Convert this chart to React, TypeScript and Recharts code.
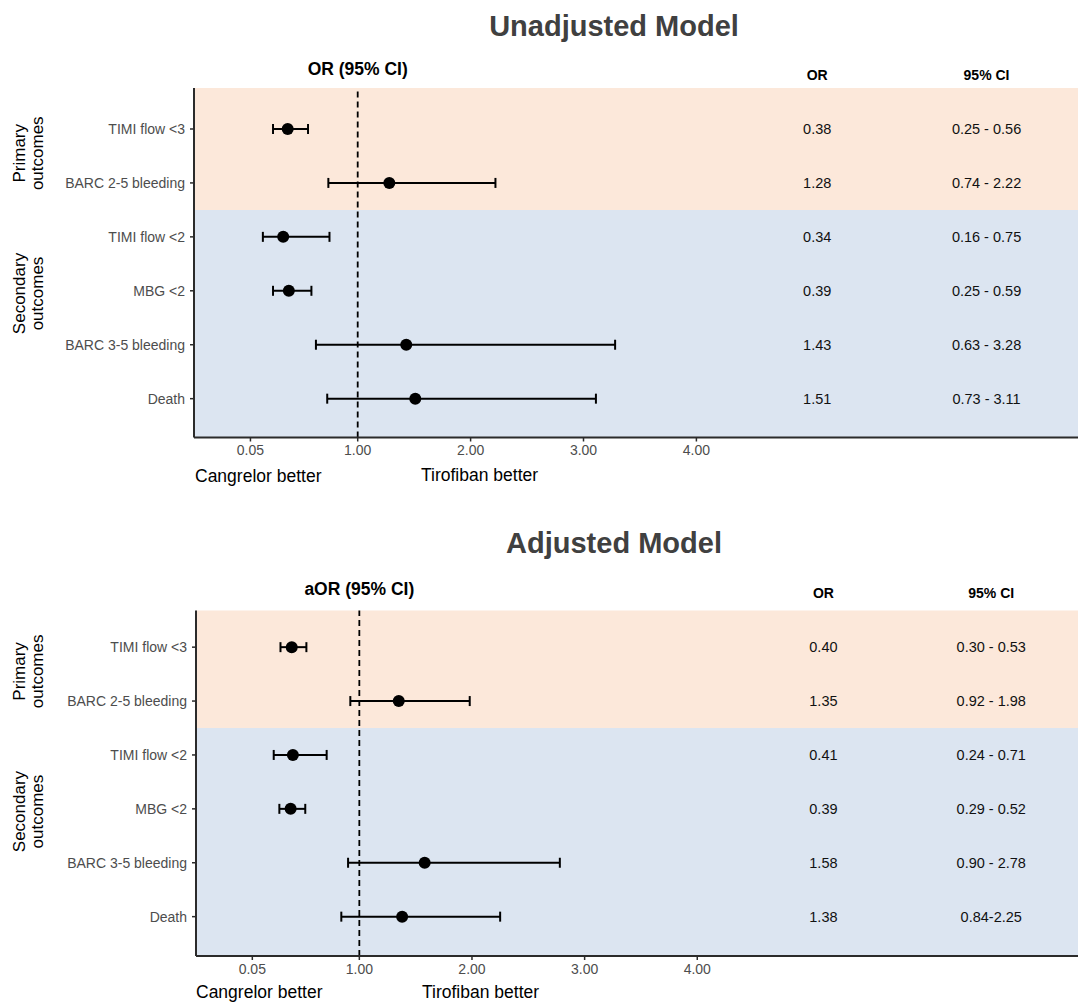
import React from "react";
import { ScatterChart, Scatter, XAxis, YAxis, ErrorBar, ReferenceArea, ReferenceLine } from "recharts";

const OUTCOMES = ["TIMI flow <3", "BARC 2-5 bleeding", "TIMI flow <2", "MBG <2", "BARC 3-5 bleeding", "Death"];
const X_TICKS = [0.05, 1, 2, 3, 4];

// unadjusted model
const UNADJ_OR = [0.38, 1.28, 0.34, 0.39, 1.43, 1.51];
const UNADJ_LO = [0.25, 0.74, 0.16, 0.25, 0.63, 0.73];
const UNADJ_HI = [0.56, 2.22, 0.75, 0.59, 3.28, 3.11];
const UNADJ_CI_TEXT = ["0.25 - 0.56", "0.74 - 2.22", "0.16 - 0.75", "0.25 - 0.59", "0.63 - 3.28", "0.73 - 3.11"];

// adjusted model
const ADJ_OR = [0.4, 1.35, 0.41, 0.39, 1.58, 1.38];
const ADJ_LO = [0.3, 0.92, 0.24, 0.29, 0.9, 0.84];
const ADJ_HI = [0.53, 1.98, 0.71, 0.52, 2.78, 2.25];
const ADJ_CI_TEXT = ["0.30 - 0.53", "0.92 - 1.98", "0.24 - 0.71", "0.29 - 0.52", "0.90 - 2.78", "0.84-2.25"];

const GROUP_LINES = [["Primary", "outcomes"], ["Secondary", "outcomes"]];
const GROUP_SPLIT = 2.5;
const GROUP_LABEL_Y = [1.45, 4.05];
const GROUP_FILLS = ["#FCE8DA", "#DCE5F1"];

const X_DOMAIN = [-0.45, 7.38];
const FONT = "'Liberation Sans', Arial, sans-serif";
const AXIS = "#2b2b2b";
const GREY = "#4d4d4d";

function GroupLabel(props: any) {
  const { viewBox, lines } = props;
  const cy = viewBox.y + (viewBox.height || 0) / 2;
  return (
    <text transform={`translate(25, ${cy}) rotate(-90)`} textAnchor="middle" fontSize={17} fill="#000" fontFamily={FONT}>
      {lines.map((l: string, i: number) => (
        <tspan key={i} x={0} y={i * 18}>{l}</tspan>
      ))}
    </text>
  );
}

const Dot = (p: any) => <circle cx={p.cx} cy={p.cy} r={6} fill="#000" />;
const Cell = (p: any) => (
  <text x={p.cx} y={p.cy} dy="0.36em" textAnchor="middle" fontSize={14.5} fill="#111" fontFamily={FONT}>
    {p.payload.text}
  </text>
);

function ForestPanel(props: any) {
  const { header, or, lo, hi, ciText, colX, yDomain, top, height, marginTop, plotLeft, bottomMargin, headerOffset, colHeaderOffset } = props;
  const points = OUTCOMES.map((_, i) => ({ x: or[i], y: i + 1, err: [or[i] - lo[i], hi[i] - or[i]] }));
  const orCells = OUTCOMES.map((_, i) => ({ x: colX[0], y: i + 1, text: or[i].toFixed(2) }));
  const ciCells = OUTCOMES.map((_, i) => ({ x: colX[1], y: i + 1, text: ciText[i] }));
  const spans = [[yDomain[0], GROUP_SPLIT], [GROUP_SPLIT, yDomain[1]]];

  return (
    <div style={{ position: "absolute", left: 0, top }}>
      <ScatterChart width={1078} height={height} margin={{ top: marginTop, right: 0, bottom: bottomMargin, left: 0 }}>
        {spans.map((s, i) => (
          <ReferenceArea key={i} y1={s[0]} y2={s[1]} fill={GROUP_FILLS[i]} fillOpacity={1} stroke="none" ifOverflow="visible" />
        ))}
        {GROUP_LABEL_Y.map((y, i) => (
          <ReferenceLine key={i} y={y} stroke="none" ifOverflow="visible" label={<GroupLabel lines={GROUP_LINES[i]} />} />
        ))}
        <XAxis
          type="number"
          dataKey="x"
          domain={X_DOMAIN}
          allowDataOverflow
          ticks={X_TICKS}
          tickFormatter={(v: number) => v.toFixed(2)}
          height={30}
          tickSize={4}
          tickMargin={4}
          axisLine={{ stroke: AXIS, strokeWidth: 2 }}
          tickLine={{ stroke: AXIS, strokeWidth: 1.5 }}
          tick={{ fill: GREY, fontSize: 14, fontFamily: FONT }}
        />
        <YAxis
          type="number"
          dataKey="y"
          domain={yDomain}
          allowDataOverflow
          reversed
          ticks={[1, 2, 3, 4, 5, 6]}
          tickFormatter={(v: number) => OUTCOMES[v - 1] || ""}
          width={plotLeft}
          tickSize={4}
          tickMargin={5}
          axisLine={{ stroke: AXIS, strokeWidth: 2 }}
          tickLine={{ stroke: AXIS, strokeWidth: 1.5 }}
          tick={{ fill: GREY, fontSize: 14, fontFamily: FONT }}
        />
        <ReferenceLine
          x={1}
          stroke="#000"
          strokeWidth={1.8}
          strokeDasharray="6 4"
          label={{ value: header, position: "top", offset: headerOffset, fill: "#000", fontSize: 17.5, fontWeight: "bold", fontFamily: FONT }}
        />
        <ReferenceLine x={colX[0]} stroke="none" label={{ value: "OR", position: "top", offset: colHeaderOffset, fill: "#000", fontSize: 14, fontWeight: "bold", fontFamily: FONT }} />
        <ReferenceLine x={colX[1]} stroke="none" label={{ value: "95% CI", position: "top", offset: colHeaderOffset, fill: "#000", fontSize: 14, fontWeight: "bold", fontFamily: FONT }} />
        <Scatter data={points} shape={Dot} isAnimationActive={false}>
          <ErrorBar dataKey="err" direction="x" width={5} strokeWidth={2} stroke="#000" />
        </Scatter>
        <Scatter data={orCells} shape={Cell} isAnimationActive={false} />
        <Scatter data={ciCells} shape={Cell} isAnimationActive={false} />
      </ScatterChart>
    </div>
  );
}

export default function App() {
  return (
    <div style={{ position: "absolute", left: 0, top: 0, width: 1078, height: 1003, background: "#fff", fontFamily: FONT }}>
      <ForestPanel
        header="OR (95% CI)"
        or={UNADJ_OR}
        lo={UNADJ_LO}
        hi={UNADJ_HI}
        ciText={UNADJ_CI_TEXT}
        colX={[5.07, 6.57]}
        yDomain={[0.24, 6.72]}
        top={0}
        height={500}
        marginTop={88}
        plotLeft={194}
        bottomMargin={32.5}
        headerOffset={13.5}
        colHeaderOffset={8}
      />
      <ForestPanel
        header="aOR (95% CI)"
        or={ADJ_OR}
        lo={ADJ_LO}
        hi={ADJ_HI}
        ciText={ADJ_CI_TEXT}
        colX={[5.12, 6.61]}
        yDomain={[0.32, 6.73]}
        top={520}
        height={483}
        marginTop={90.5}
        plotLeft={196}
        bottomMargin={17}
        headerOffset={15.5}
        colHeaderOffset={12.5}
      />
      <svg width={1078} height={1003} style={{ position: "absolute", left: 0, top: 0, pointerEvents: "none" }} fontFamily={FONT}>
        <text x={614} y={36} textAnchor="middle" fontSize={29} fontWeight="bold" fill="#404040">Unadjusted Model</text>
        <text x={195} y={482} fontSize={17.5} fill="#000">Cangrelor better</text>
        <text x={421} y={481} fontSize={17.5} fill="#000">Tirofiban better</text>
        <text x={614} y={553} textAnchor="middle" fontSize={29} fontWeight="bold" fill="#404040">Adjusted Model</text>
        <text x={196} y={998} fontSize={17.5} fill="#000">Cangrelor better</text>
        <text x={422} y={997.5} fontSize={17.5} fill="#000">Tirofiban better</text>
      </svg>
    </div>
  );
}
